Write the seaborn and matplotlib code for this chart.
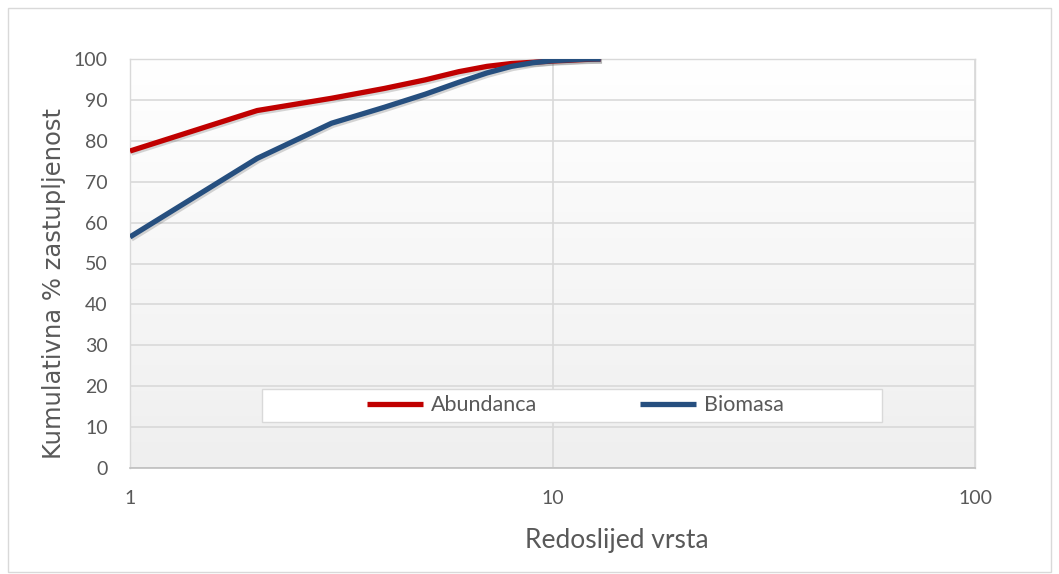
import numpy as np
import pandas as pd
import seaborn as sns
import matplotlib
matplotlib.use("Agg")
import matplotlib.pyplot as plt
import matplotlib.patheffects as pe
from matplotlib.patches import Rectangle
from matplotlib.lines import Line2D
from matplotlib.font_manager import FontProperties

rank = [1, 2, 3, 4, 5, 6, 7, 8, 9, 10, 11, 12, 13]
abundanca = [77.5, 87.4, 90.4, 92.8, 94.9, 96.9, 98.2, 98.9, 99.2, 99.5, 99.7, 99.9, 100.0]
biomasa = [56.5, 75.7, 84.3, 88.2, 91.4, 94.3, 96.6, 98.2, 99.1, 99.6, 99.8, 100.0, 100.0]
series_names = ["Abundanca", "Biomasa"]
colors = ["#C00000", "#264F7F"]

df = pd.DataFrame({
    "rank": rank * 2,
    "value": abundanca + biomasa,
    "series": [series_names[0]] * len(rank) + [series_names[1]] * len(rank),
})

sns.set_theme(style="white")
plt.rcParams["font.family"] = ["Lato", "DejaVu Sans"]

fig = plt.figure(figsize=(10.59, 5.74), dpi=100)
ax = fig.add_axes([130 / 1059, 1 - 468 / 574, 845 / 1059, 409 / 574])

# outer chart border
fig.patches.append(Rectangle((8 / 1059, 2 / 574), 1 - 16 / 1059, 1 - 10 / 574,
                             transform=fig.transFigure, fill=False,
                             edgecolor="#d9d9d9", linewidth=1.0))

# gradient plot area
grad = np.linspace(0, 1, 256).reshape(-1, 1)
ax.imshow(grad, extent=(0, 1, 0, 1), transform=ax.transAxes, aspect="auto",
          cmap=matplotlib.colors.LinearSegmentedColormap.from_list("g", ["#ffffff", "#efefef"]),
          zorder=0, origin="upper")

shadow = [pe.SimpleLineShadow(offset=(1.0, -1.5), alpha=0.22, shadow_color="#444444"), pe.Normal()]
sns.lineplot(data=df, x="rank", y="value", hue="series", palette=colors,
             linewidth=3.8, ax=ax, legend=False, zorder=3)
for ln in ax.get_lines():
    ln.set_path_effects(shadow)
    ln.set_solid_capstyle("butt")
    ln.set_solid_joinstyle("round")

ax.set_xscale("log")
ax.set_xlim(1, 100)
ax.set_ylim(0, 100)
ax.set_yticks(range(0, 101, 10))
ax.set_xticks([1, 10, 100])
ax.set_xticklabels(["1", "10", "100"])
ax.minorticks_off()
ax.grid(True, which="major", color="#d9d9d9", linewidth=1.2, zorder=1)
ax.set_axisbelow(True)
for s in ["top", "right", "left"]:
    ax.spines[s].set_color("#d9d9d9")
    ax.spines[s].set_linewidth(1.0)
ax.spines["bottom"].set_color("#bfbfbf")
ax.spines["bottom"].set_linewidth(1.2)

ax.tick_params(axis="both", length=0, labelsize=14, colors="#595959")
ax.tick_params(axis="y", pad=16)
ax.tick_params(axis="x", pad=16)

ax.set_xlabel("Redoslijed vrsta", fontsize=19, color="#595959")
ax.xaxis.set_label_coords((617 - 130) / 845, (468 - 528) / 409)
ax.set_ylabel("Kumulativna % zastupljenost", color="#595959",
              fontproperties=FontProperties(family="DejaVu Sans", size=17.5))
ax.yaxis.set_label_coords((66 - 130) / 845, (468 - 283.5) / 409)

# legend box
ax.add_patch(Rectangle(((262 - 130) / 845, (468 - 422) / 409), (882 - 262) / 845, 33 / 409,
                       transform=ax.transAxes, facecolor="white", edgecolor="#d9d9d9",
                       linewidth=1.0, zorder=4))
handles = [Line2D([0], [0], color=c, linewidth=3.8, solid_capstyle="butt") for c in colors]
leg = ax.legend(handles, series_names, loc="center", bbox_to_anchor=(0.527, 0.153),
                ncol=2, frameon=False, fontsize=15.5, handlelength=2.6,
                columnspacing=4.8, handletextpad=0.35, labelcolor="#595959")
leg.set_zorder(5)

fig.savefig("out.png", dpi=100)
